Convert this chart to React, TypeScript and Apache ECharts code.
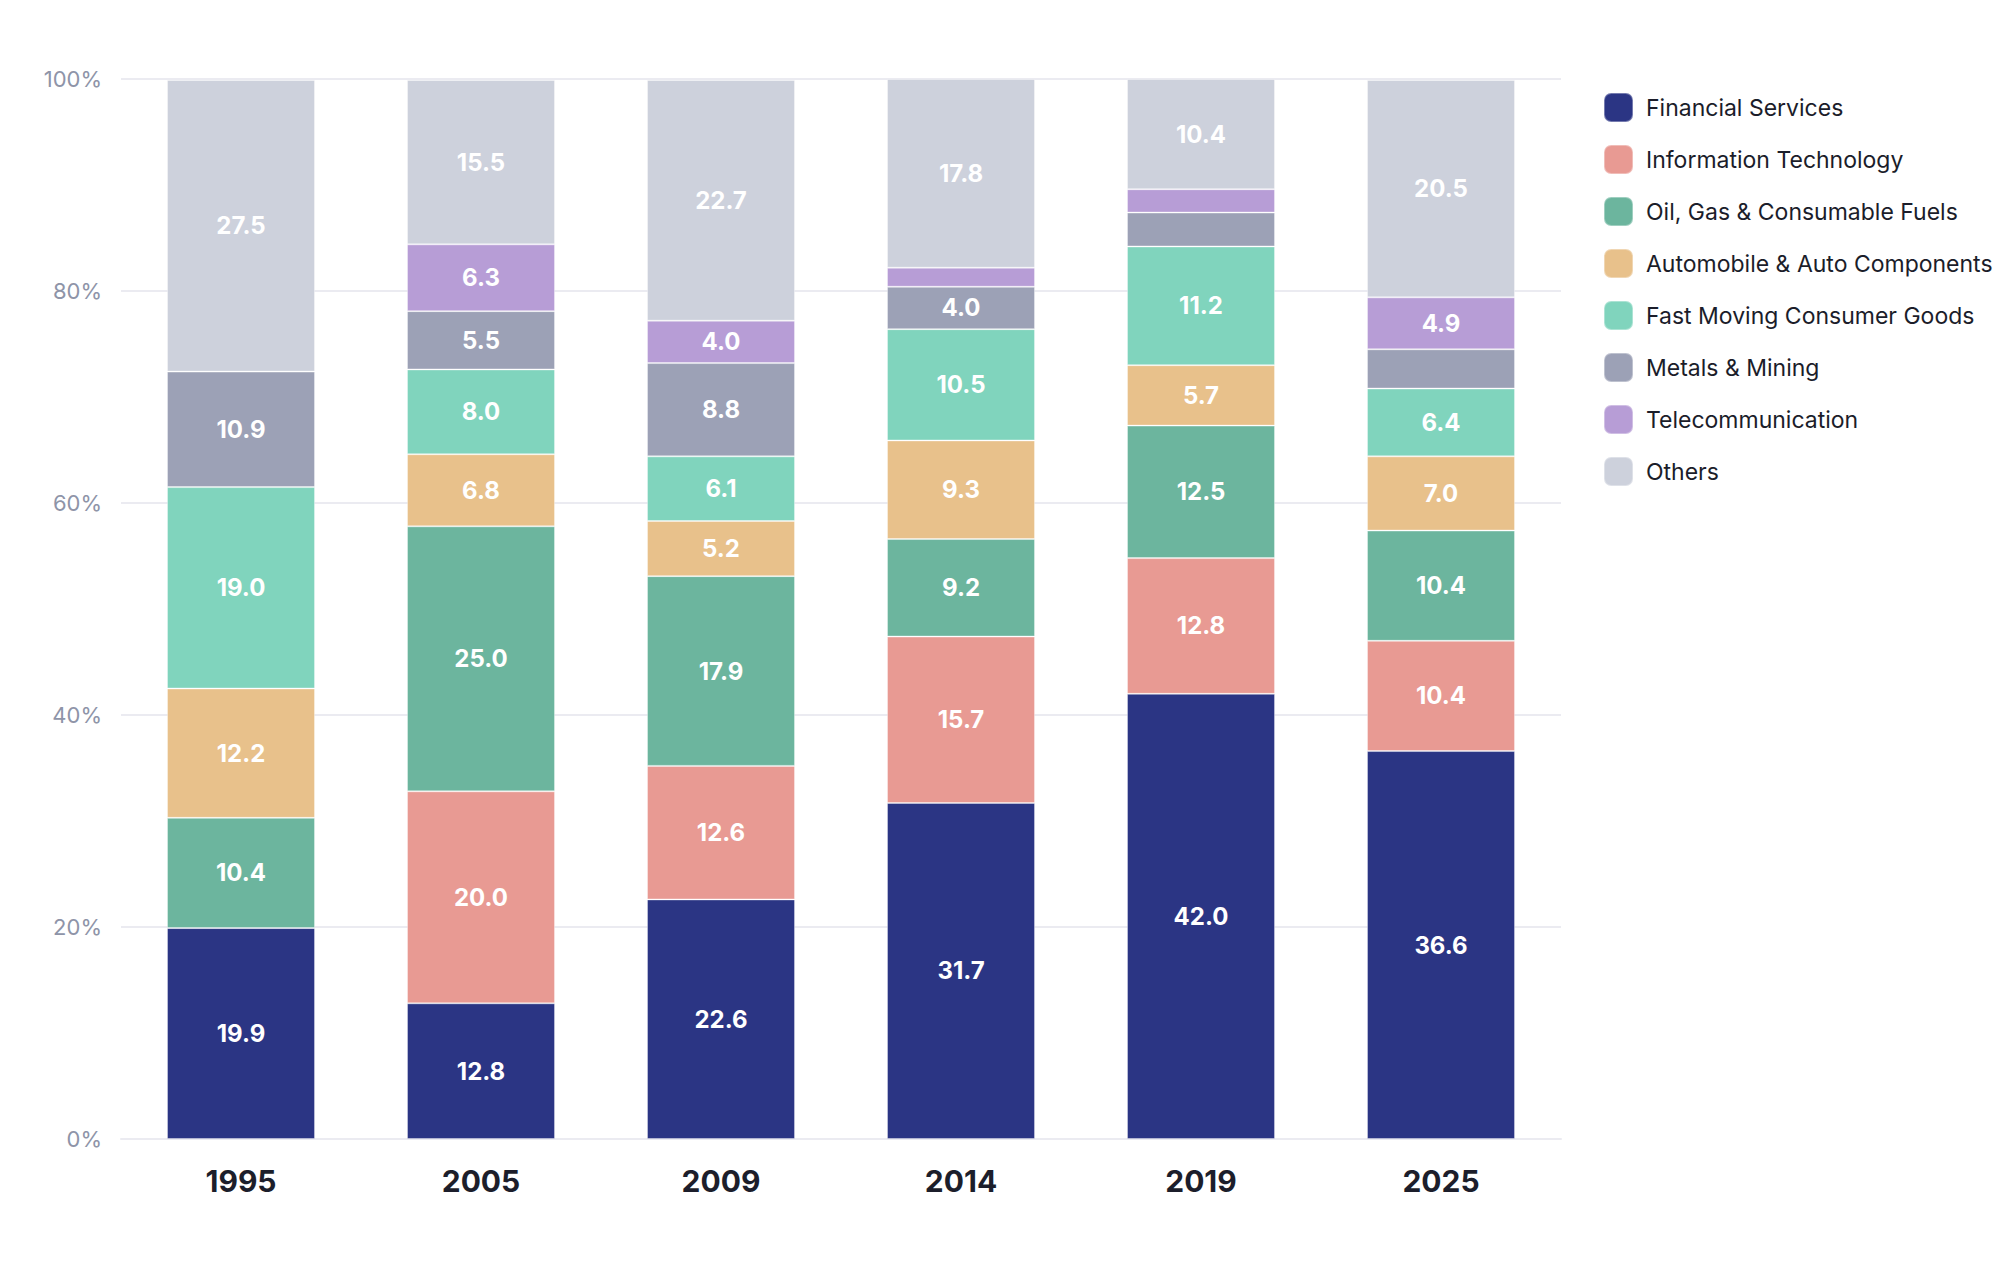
import React, { useEffect, useRef } from "react";
import * as echarts from "echarts";

const years = ["1995", "2005", "2009", "2014", "2019", "2025"];
const seriesNames = [
  "Financial Services",
  "Information Technology",
  "Oil, Gas & Consumable Fuels",
  "Automobile & Auto Components",
  "Fast Moving Consumer Goods",
  "Metals & Mining",
  "Telecommunication",
  "Others",
];
const financial = [19.9, 12.8, 22.6, 31.7, 42.0, 36.6];
const infoTech = [0, 20.0, 12.6, 15.7, 12.8, 10.4];
const oilGas = [10.4, 25.0, 17.9, 9.2, 12.5, 10.4];
const auto = [12.2, 6.8, 5.2, 9.3, 5.7, 7.0];
const fmcg = [19.0, 8.0, 6.1, 10.5, 11.2, 6.4];
const metals = [10.9, 5.5, 8.8, 4.0, 3.2, 3.7];
const telecom = [0, 6.3, 4.0, 1.8, 2.2, 4.9];
const others = [27.5, 15.5, 22.7, 17.8, 10.4, 20.5];
const yTicks = [0, 20, 40, 60, 80, 100];

const colors = [
  "#2b3584",
  "#e89a93",
  "#6cb59e",
  "#e8c18b",
  "#80d4bd",
  "#9ca1b6",
  "#b79dd6",
  "#cdd1dc",
];

const allData = [financial, infoTech, oilGas, auto, fmcg, metals, telecom, others];

export default function App() {
  const ref = useRef<HTMLDivElement>(null);
  useEffect(() => {
    if (!ref.current) return;
    const chart = echarts.init(ref.current, null, { renderer: "svg" });
    chart.setOption({
      animation: false,
      backgroundColor: "#ffffff",
      textStyle: { fontFamily: "Inter" },
      grid: { left: 121, right: 439, top: 79, bottom: 141, containLabel: false },
      legend: {
        orient: "vertical",
        left: 1598,
        top: 87,
        itemWidth: 29,
        itemHeight: 29,
        itemGap: 21,
        icon: "roundRect",
        textStyle: {
          fontSize: 23,
          lineHeight: 28,
          color: "#1b1d2a",
          fontFamily: "Inter",
          padding: [0, 0, 0, 8],
        },
        data: seriesNames,
      },
      xAxis: {
        type: "category",
        data: years,
        axisLine: { lineStyle: { color: "#ebebf1", width: 2 } },
        axisTick: { show: false },
        axisLabel: {
          fontSize: 30,
          fontWeight: "bold",
          color: "#1c1e2b",
          margin: 27,
          fontFamily: "Inter",
        },
      },
      yAxis: {
        type: "value",
        min: yTicks[0],
        max: yTicks[yTicks.length - 1],
        interval: 20,
        axisLine: { show: false },
        axisTick: { show: false },
        splitLine: { lineStyle: { color: "#ebebf1", width: 2 } },
        axisLabel: {
          formatter: "{value}%",
          fontSize: 22,
          color: "#8e94a8",
          margin: 19,
          fontFamily: "Inter",
        },
      },
      series: seriesNames.map((name, i) => ({
        name,
        type: "bar",
        stack: "total",
        barWidth: 148,
        data: allData[i],
        itemStyle: {
          color: colors[i],
          borderColor: "rgba(255,255,255,0.35)",
          borderWidth: 1,
        },
        label: {
          show: true,
          position: "inside",
          color: "#ffffff",
          fontSize: 24,
          fontWeight: "bold",
          fontFamily: "Inter",
          formatter: (p: any) => (p.value >= 3.9 ? Number(p.value).toFixed(1) : ""),
        },
      })),
    });
    return () => chart.dispose();
  }, []);
  return (
    <div
      ref={ref}
      style={{ position: "fixed", left: 0, top: 0, width: 2000, height: 1280, background: "#fff" }}
    />
  );
}
